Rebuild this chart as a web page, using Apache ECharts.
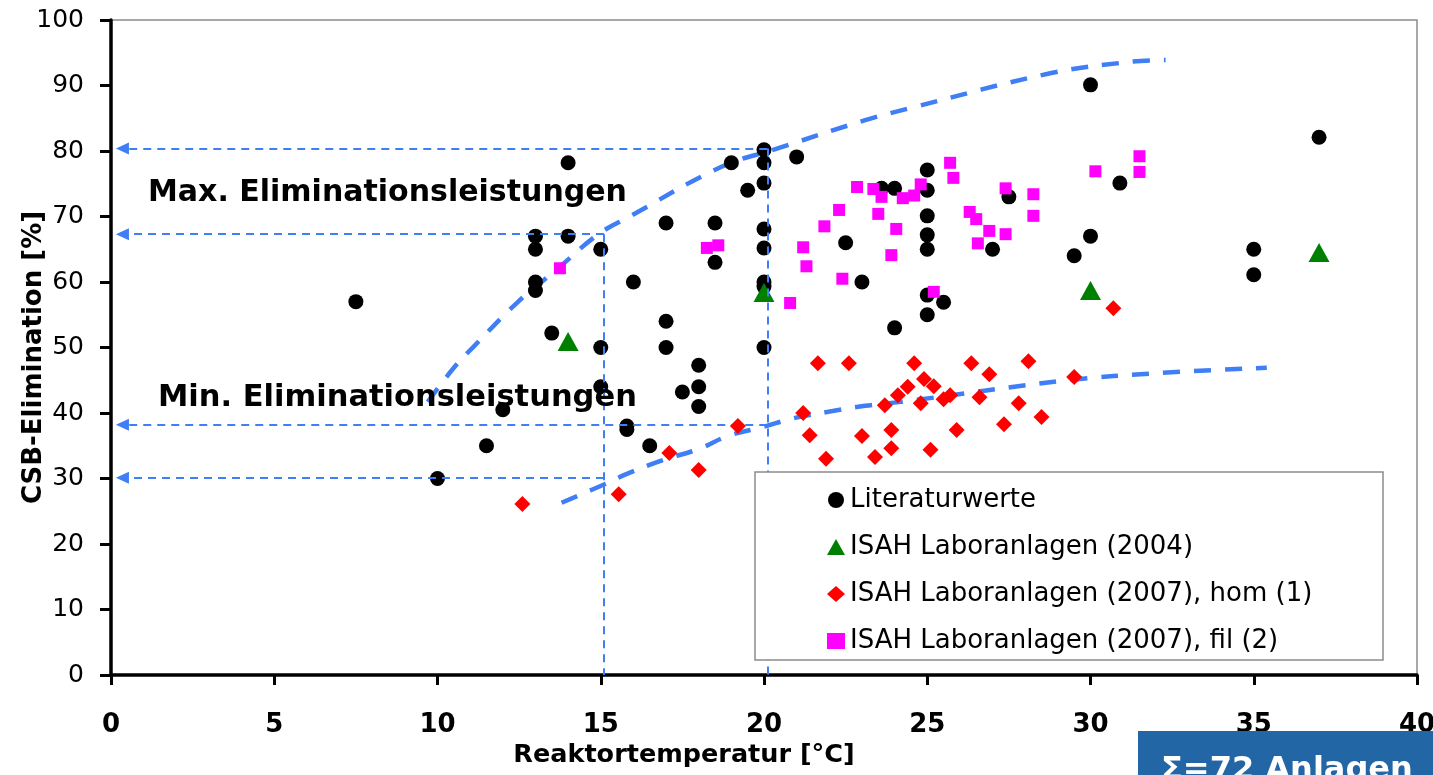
<!DOCTYPE html>
<html>
<head>
<meta charset="utf-8">
<script src="https://cdn.jsdelivr.net/npm/echarts@6/dist/echarts.min.js"></script>
<style>
  html, body { margin: 0; padding: 0; background: #fff; }
  #chart { width: 1433px; height: 775px; }
</style>
</head>
<body>
<div id="chart"></div>
<script>
// Literature values: [temperature °C, COD elimination %]
const literaturwerte = [
  [7.5, 57], [10, 30], [11.5, 35], [12, 40.5], [13, 67], [13, 65], [13, 60], [13, 58.7],
  [13.5, 52.2], [14, 78.2], [14, 67], [15, 65], [15, 50], [15, 44], [15.8, 38], [15.8, 37.5],
  [16, 60], [16.5, 35], [17, 69], [17, 54], [17, 50], [17.5, 43.2], [18, 47.3], [18, 44],
  [18, 41], [18.5, 69], [18.5, 63], [19, 78.2], [19.5, 74], [20, 80.2], [20, 78.2], [20, 75.1],
  [20, 68.1], [20, 65.2], [20, 60], [20, 59.3], [20, 50], [21, 79.1], [22.5, 66], [23, 60],
  [23.6, 74.3], [24, 74.3], [24, 53], [25, 77.1], [25, 74], [25, 70.1], [25, 67.2], [25, 65],
  [25, 58], [25, 55], [25.5, 56.9], [27, 65], [27.5, 73], [29.5, 64], [30, 90.1], [30, 67],
  [30.9, 75.1], [35, 65], [35, 61.1], [37, 82.1]
];
// ISAH lab plants 2004
const isah2004 = [[14, 50.9], [20, 58.4], [30, 58.7], [37, 64.5]];
// ISAH lab plants 2007, homogenised samples
const isah2007hom = [
  [12.6, 26.1], [15.55, 27.6], [17.1, 33.9], [18, 31.3], [19.2, 38], [21.2, 40], [21.4, 36.6],
  [21.65, 47.6], [21.9, 33], [22.6, 47.6], [23, 36.5], [23.4, 33.3], [23.7, 41.2], [23.9, 37.4],
  [23.9, 34.6], [24.1, 42.7], [24.4, 44], [24.6, 47.6], [24.9, 45.2], [25.2, 44.1], [24.8, 41.5],
  [25.1, 34.4], [25.5, 42.1], [25.7, 42.7], [25.9, 37.4], [26.35, 47.6], [26.6, 42.4], [26.9, 45.9],
  [27.35, 38.3], [27.8, 41.5], [28.1, 47.9], [28.5, 39.4], [29.5, 45.5], [30.7, 56]
];
// ISAH lab plants 2007, filtered samples
const isah2007fil = [
  [13.75, 62.1], [18.25, 65.2], [18.6, 65.6], [20.8, 56.8], [21.2, 65.3], [21.3, 62.4], [21.85, 68.5],
  [22.3, 71], [22.4, 60.5], [22.85, 74.5], [23.35, 74.2], [23.5, 70.4], [23.6, 73], [23.9, 64.1],
  [24.05, 68.1], [24.25, 72.8], [24.6, 73.2], [24.8, 74.9], [25.2, 58.5], [25.7, 78.2], [25.8, 75.9],
  [26.3, 70.7], [26.5, 69.6], [26.55, 65.9], [26.9, 67.8], [27.4, 74.3], [27.4, 67.3], [28.25, 73.4],
  [28.25, 70.1], [30.15, 76.9], [31.5, 79.2], [31.5, 76.8]
];
// Envelope curves (maximum / minimum elimination)
const maxEnvelope = [
  [9.7, 41.7], [10.5, 46.9], [11.1, 50.1], [12.45, 56.9], [13.7, 62.1], [14.9, 67.2], [15.85, 69.9],
  [18.7, 77.6], [20.3, 80.2], [23.1, 84.7], [24.6, 86.7], [28.8, 91.9], [31.2, 93.6], [32.3, 93.9]
];
const minEnvelope = [
  [13.8, 26.3], [15.2, 29.3], [15.8, 30.7], [16.9, 32.8], [18, 34.5], [18.9, 36.5], [20, 37.9],
  [20.9, 39.2], [22.1, 40.3], [23.1, 41.1], [24.2, 41.7], [29.3, 45], [32.1, 46.1], [35.4, 46.9]
];
// Read-off guides: [temperature, elimination]
const guideMax20 = [20.1, 80.4];
const guideMax15 = [15.1, 67.3];
const guideMin20 = [20.1, 38.2];
const guideMin15 = [15.1, 30.1];
const arrowEndX = 0.35;

const seriesNames = [
  'Literaturwerte',
  'ISAH Laboranlagen (2004)',
  'ISAH Laboranlagen (2007), hom (1)',
  'ISAH Laboranlagen (2007), fil (2)'
];
const xTicks = { min: 0, max: 40, interval: 5 };
const yTicks = { min: 0, max: 100, interval: 10 };
const xTitle = 'Reaktortemperatur [°C]';
const yTitle = 'CSB-Elimination [%]';
const maxLabel = 'Max. Eliminationsleistungen';
const minLabel = 'Min. Eliminationsleistungen';
const totalLabel = 'Σ=72 Anlagen';

const FONT = 'DejaVu Sans';
const BLUE = '#3f7ef5';

const guideLines = [
  [{ coord: guideMax20, symbol: 'none' }, { coord: [arrowEndX, guideMax20[1]], symbol: 'triangle' }],
  [{ coord: guideMax15, symbol: 'none' }, { coord: [arrowEndX, guideMax15[1]], symbol: 'triangle' }],
  [{ coord: guideMin20, symbol: 'none' }, { coord: [arrowEndX, guideMin20[1]], symbol: 'triangle' }],
  [{ coord: guideMin15, symbol: 'none' }, { coord: [arrowEndX, guideMin15[1]], symbol: 'triangle' }],
  [{ coord: guideMax20, symbol: 'none' }, { coord: [guideMax20[0], 0], symbol: 'none' }],
  [{ coord: guideMax15, symbol: 'none' }, { coord: [guideMax15[0], 0], symbol: 'none' }]
];

const chart = echarts.init(document.getElementById('chart'), null, { renderer: 'canvas' });

chart.setOption({
  animation: false,
  backgroundColor: '#fff',
  textStyle: { fontFamily: FONT },
  grid: {
    left: 111, right: 16, top: 20, bottom: 100,
    containLabel: false, outerBoundsMode: 'none',
    show: true, borderColor: '#8c8c8c', borderWidth: 1.5, backgroundColor: 'transparent'
  },
  xAxis: {
    type: 'value', min: xTicks.min, max: xTicks.max, interval: xTicks.interval,
    name: xTitle, nameLocation: 'middle', nameGap: 67, nameMoveOverlap: false,
    nameTextStyle: { fontFamily: FONT, fontSize: 25.5, fontWeight: 'bold', color: '#000', padding: [0, 160, 0, 0] },
    axisLine: { onZero: false, lineStyle: { color: '#000', width: 3.5 } },
    axisTick: { show: true, inside: false, length: 10, lineStyle: { color: '#000', width: 3 } },
    axisLabel: { fontFamily: FONT, fontSize: 26, fontWeight: 'bold', color: '#000', margin: 37 },
    splitLine: { show: false }
  },
  yAxis: {
    type: 'value', min: yTicks.min, max: yTicks.max, interval: yTicks.interval,
    name: yTitle, nameLocation: 'middle', nameGap: 64, nameMoveOverlap: false,
    nameTextStyle: { fontFamily: FONT, fontSize: 26, fontWeight: 'bold', color: '#000', padding: [0, 20, 0, 0] },
    axisLine: { onZero: false, lineStyle: { color: '#000', width: 3.5 } },
    axisTick: { show: true, inside: false, length: 11, lineStyle: { color: '#000', width: 3 } },
    axisLabel: { fontFamily: FONT, fontSize: 25, color: '#000', margin: 27 },
    splitLine: { show: false }
  },
  legend: {
    orient: 'vertical', left: 822, top: 480, z: 20,
    itemWidth: 18, itemHeight: 16, itemGap: 17,
    textStyle: { fontFamily: FONT, fontSize: 26, color: '#000', lineHeight: 30 },
    data: seriesNames
  },
  graphic: [
    {
      type: 'rect', z: 10, silent: true,
      shape: { x: 755, y: 472, width: 628, height: 188 },
      style: { fill: '#fff', stroke: '#8c8c8c', lineWidth: 1.5 }
    },
    {
      type: 'text', z: 10, silent: true, x: 148, y: 193,
      style: { text: maxLabel, font: 'bold 30px "DejaVu Sans"', fill: '#000', verticalAlign: 'middle' }
    },
    {
      type: 'text', z: 10, silent: true, x: 158, y: 398,
      style: { text: minLabel, font: 'bold 30.5px "DejaVu Sans"', fill: '#000', verticalAlign: 'middle' }
    },
    {
      type: 'rect', z: 10, silent: true,
      shape: { x: 1138, y: 731, width: 300, height: 50 },
      style: { fill: '#2366a5' }
    },
    {
      type: 'text', z: 11, silent: true, x: 1161, y: 771,
      style: { text: totalLabel, font: 'bold 32px "DejaVu Sans"', fill: '#fff', verticalAlign: 'middle' }
    }
  ],
  series: [
    {
      name: 'guides', type: 'line', data: [], z: 1, silent: true,
      markLine: {
        silent: true, animation: false, symbolSize: [12, 13],
        label: { show: false },
        lineStyle: { color: BLUE, width: 2, type: [8, 6] },
        emphasis: { disabled: true },
        data: guideLines
      }
    },
    {
      name: 'maxEnvelope', type: 'line', data: maxEnvelope, smooth: 0.4, symbol: 'none', z: 1, silent: true,
      lineStyle: { color: BLUE, width: 4.5, type: [17, 14], cap: 'butt' }
    },
    {
      name: 'minEnvelope', type: 'line', data: minEnvelope, smooth: 0.4, symbol: 'none', z: 1, silent: true,
      lineStyle: { color: BLUE, width: 4.5, type: [17, 14], cap: 'butt' }
    },
    {
      name: seriesNames[0], type: 'scatter', data: literaturwerte, symbol: 'circle', symbolSize: 15, z: 3,
      itemStyle: { color: '#000', opacity: 1 }
    },
    {
      name: seriesNames[1], type: 'scatter', data: isah2004, symbol: 'triangle', symbolSize: [21, 19], z: 4,
      itemStyle: { color: '#008000', opacity: 1 }
    },
    {
      name: seriesNames[2], type: 'scatter', data: isah2007hom, symbol: 'diamond', symbolSize: 16, z: 5,
      itemStyle: { color: '#ff0000', opacity: 1 }
    },
    {
      name: seriesNames[3], type: 'scatter', data: isah2007fil, symbol: 'rect', symbolSize: 12, z: 6,
      itemStyle: { color: '#ff00ff', opacity: 1 }
    }
  ]
});
</script>
</body>
</html>
